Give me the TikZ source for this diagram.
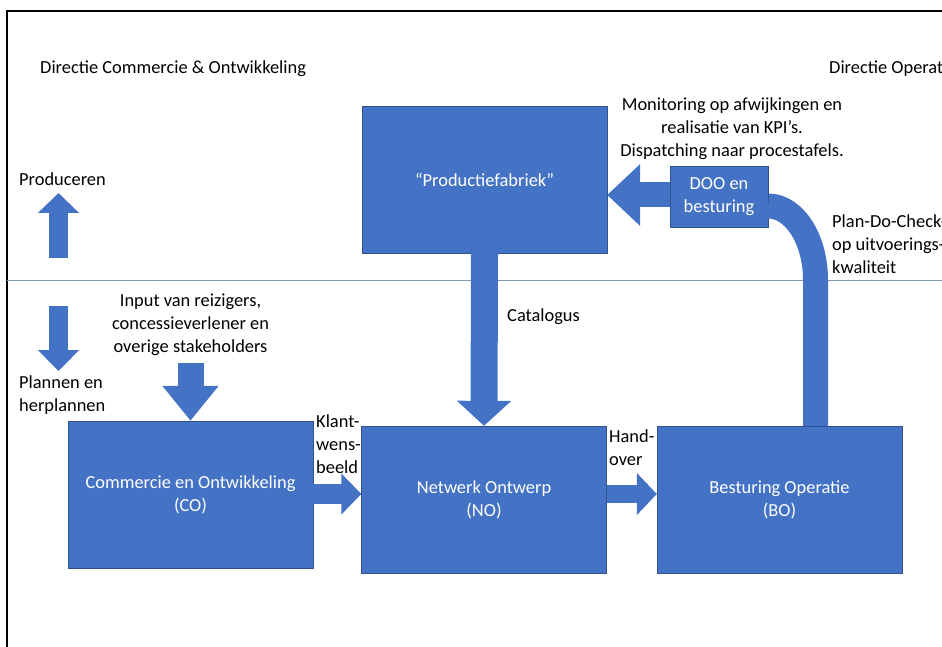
\documentclass[tikz,border=0pt]{standalone}
\usepackage{fontspec}
\setmainfont{Carlito}
\usetikzlibrary{arrows.meta,positioning}
\definecolor{boxblue}{HTML}{4472C4}
\definecolor{boxedge}{HTML}{2F528F}
\definecolor{divider}{HTML}{8497B0}

\begin{document}
\begin{tikzpicture}[x=1pt,y=-1pt,font=\fontsize{18.4}{23}\selectfont]
			\tikzstyle{block} = [rectangle, draw=boxedge, fill=boxblue, text=white, align=center, inner sep=0pt, minimum width=245pt, minimum height=147pt]
			\tikzstyle{smallblock} = [block, minimum width=98pt, minimum height=61pt]
			\tikzstyle{entry} = [draw=none, inner sep=0pt, align=left, anchor=west]
			\tikzstyle{fat} = [draw=boxblue, line width=27pt, -{Triangle[width=53pt,length=25pt]}]

			\useasboundingbox (0,0) rectangle (942,647);
			\clip (0,0) rectangle (942,647);

			% frame and divider
			\draw[line width=1.5pt] (7,647) -- (7,11) -- (942,11);
			\draw[divider, line width=1pt] (7,280) -- (942,280);

			\node [block] (prod) at (484.5,179.5) {“Productiefabriek”};
			\node [smallblock] (doo) at (719,196.5) {DOO en\\besturing};
			\node [block] (co) at (190.5,494.5) {Commercie en Ontwikkeling\\(CO)};
			\node [block] (no) at (484,499.5) {Netwerk Ontwerp\\(NO)};
			\node [block] (bo) at (779.5,499.5) {Besturing Operatie\\(BO)};

			\node [entry] (dirco) at (40,69) {Directie Commercie \& Ontwikkeling};
			\node [entry] (dirop) at (829,69) {Directie Operatie};
			\node [entry] (produceren) at (19,179) {Produceren};
			\node [entry] (plannen) at (19,395.5) {Plannen en\\herplannen};
			\node [align=center, inner sep=0pt] (input) at (190.5,325) {Input van reizigers,\\concessieverlener en\\overige stakeholders};
			\node [entry] (catalogus) at (507,317) {Catalogus};
			\node [entry] (klant) at (316,444) {Klant-\\wens-\\beeld};
			\node [entry] (handover) at (609,448) {Hand-\\over};
			\node [align=center, inner sep=0pt] (monitoring) at (732,129) {Monitoring op afwijkingen en\\realisatie van KPI’s.\\Dispatching naar procestafels.};
			\node [entry] (pdca) at (832,244) {Plan-Do-Check-Act\\op uitvoerings-\\kwaliteit};

			\coordinate (upfoot) at (58.5,258);
			\coordinate (uptip) at (58.5,193);
			\coordinate (downtop) at (58.5,306);
			\coordinate (downtip) at (58.5,371);
			\coordinate (inputtop) at (190.5,363);
			\coordinate (bend) at (815.5,280);

			\path[fat, line width=19pt, -{Triangle[width=40pt,length=20pt]}] (upfoot) -- (uptip);
			\path[fat, line width=19pt, -{Triangle[width=40pt,length=21pt]}] (downtop) -- (downtip);
			\path[fat, line width=26pt, -{Triangle[width=54pt,length=35pt]}] (inputtop) -- (co.north);
			\path[fat] (prod.south) -- (no.north);
			\path[fat, line width=20pt, -{Triangle[width=40pt,length=20pt]}] (co.east |- 0,494) -- (no.west |- 0,494);
			\path[fat, line width=18pt, -{Triangle[width=41pt,length=20pt]}] (no.east |- 0,494) -- (bo.west |- 0,494);
			\path[fat, line width=25pt, -{Triangle[width=60pt,length=33pt]}] (doo.west |- 0,195) -- (prod.east |- 0,195);
			\draw[boxblue, line width=25pt] (bo.north -| bend) -- (bend) .. controls +(0,-41) and +(26,0) .. (doo.east |- 0,206);
		\end{tikzpicture}
\end{document}
